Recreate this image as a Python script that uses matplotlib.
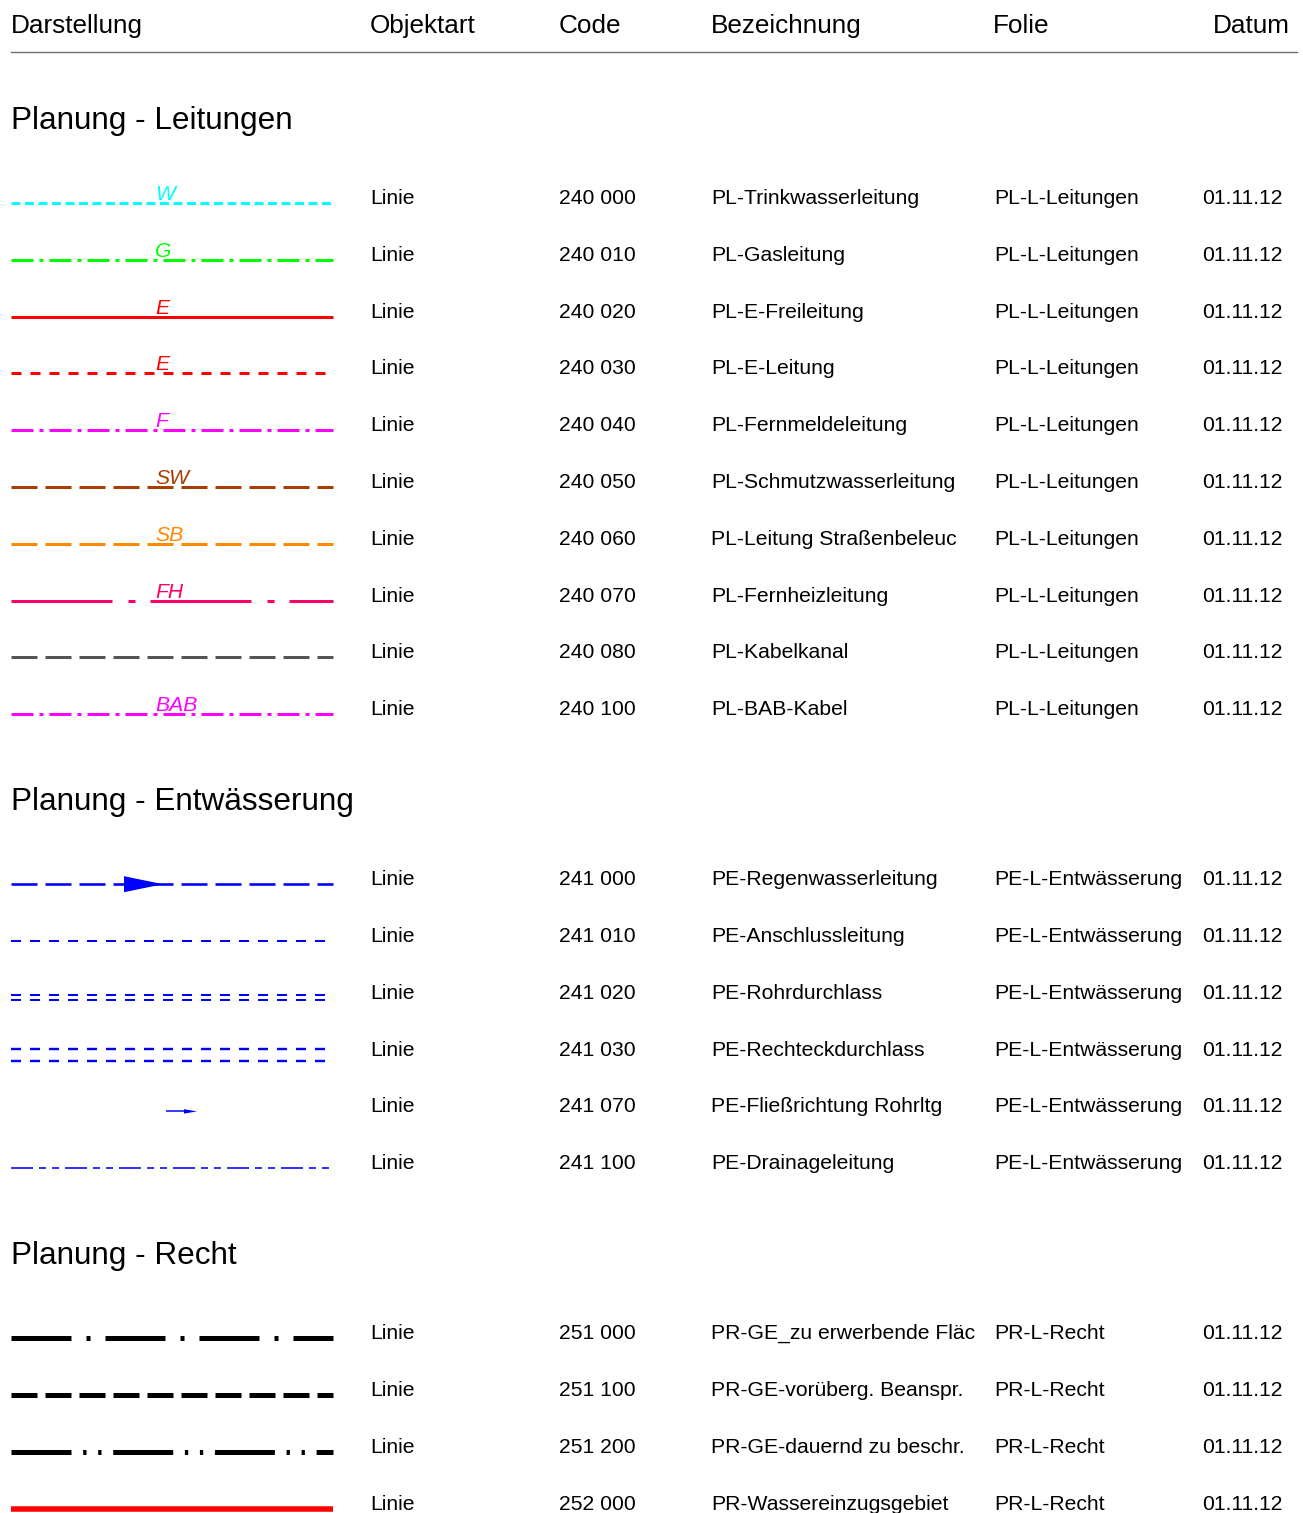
import matplotlib
matplotlib.use("Agg")
import matplotlib.pyplot as plt
from matplotlib.patches import Polygon

plt.rcParams['font.family'] = ['Liberation Sans', 'DejaVu Sans']
plt.rcParams['lines.scale_dashes'] = False

# --- data ---
headers = ["Darstellung", "Objektart", "Code", "Bezeichnung", "Folie", "Datum"]
sections = ["Planung - Leitungen", "Planung - Entwässerung", "Planung - Recht"]

codes = [
    ["240 000", "240 010", "240 020", "240 030", "240 040",
     "240 050", "240 060", "240 070", "240 080", "240 100"],
    ["241 000", "241 010", "241 020", "241 030", "241 070", "241 100"],
    ["251 000", "251 100", "251 200", "252 000"],
]
names = [
    ["PL-Trinkwasserleitung", "PL-Gasleitung", "PL-E-Freileitung", "PL-E-Leitung",
     "PL-Fernmeldeleitung", "PL-Schmutzwasserleitung", "PL-Leitung Straßenbeleuc",
     "PL-Fernheizleitung", "PL-Kabelkanal", "PL-BAB-Kabel"],
    ["PE-Regenwasserleitung", "PE-Anschlussleitung", "PE-Rohrdurchlass",
     "PE-Rechteckdurchlass", "PE-Fließrichtung Rohrltg", "PE-Drainageleitung"],
    ["PR-GE_zu erwerbende Fläc", "PR-GE-vorüberg. Beanspr.",
     "PR-GE-dauernd zu beschr.", "PR-Wassereinzugsgebiet"],
]
folien = ["PL-L-Leitungen", "PE-L-Entwässerung", "PR-L-Recht"]
objektart = "Linie"
datum = "01.11.12"
symbol_labels = [
    ["W", "G", "E", "E", "F", "SW", "SB", "FH", "", "BAB"],
    ["", "", "", "", "", ""],
    ["", "", "", ""],
]

# --- line styles (dash patterns in px) ---
DASH_SHORT = (9, 4.5)
DASH_MED = (10, 9)
DASH_LONG = (26, 8)
DASHDOT = (22, 6, 4, 6)
FH = (101, 16, 7, 15)
DRAIN = (22, 6, 7, 6, 7, 6)
REC1 = (60, 15, 4, 15)
REC2 = (60, 11.7, 3.3, 11.7, 3.3, 11.7)

styles = [
    [dict(c='#00FFFF', lw=3, d=DASH_SHORT),
     dict(c='#00FF00', lw=3, d=DASHDOT),
     dict(c='#FF0000', lw=3, d=None),
     dict(c='#FF0000', lw=3, d=DASH_MED, x1=325),
     dict(c='#FF00FF', lw=3, d=DASHDOT),
     dict(c='#AA3C00', lw=3, d=DASH_LONG),
     dict(c='#FF8800', lw=3, d=DASH_LONG),
     dict(c='#FF0066', lw=3, d=FH),
     dict(c='#555555', lw=3, d=DASH_LONG),
     dict(c='#FF00FF', lw=3, d=DASHDOT)],
    [dict(c='#0000FF', lw=2.6, d=DASH_LONG, kind='arrow'),
     dict(c='#0000FF', lw=2, d=DASH_MED, x1=325),
     dict(c='#0000FF', lw=2, d=DASH_MED, x1=325, kind='double', gap=2.5, dy=-0.5),
     dict(c='#0000FF', lw=2.4, d=DASH_MED, x1=325, kind='double', gap=6),
     dict(c='#0000FF', lw=1.5, d=None, kind='small_arrow'),
     dict(c='#0000FF', lw=1.6, d=DRAIN)],
    [dict(c='#000000', lw=5, d=REC1),
     dict(c='#000000', lw=5, d=DASH_LONG),
     dict(c='#000000', lw=5, d=REC2),
     dict(c='#FF0000', lw=5.5, d=None)],
]

W, H = 1303, 1513
fig = plt.figure(figsize=(W / 100, H / 100), dpi=100)
ax = fig.add_axes([0, 0, 1, 1])
ax.set_xlim(0, W)
ax.set_ylim(H, 0)
ax.axis('off')

PX = 0.72  # px -> pt at 100 dpi
X0, X1 = 11, 333
col_x = [370, 559, 711, 994, 1202]
head_x = [11, 370, 559, 711, 993, 1213]


def hline(y, x0, x1, st):
    ls = '-' if st['d'] is None else (0, tuple(v * PX for v in st['d']))
    ax.plot([x0, x1], [y, y], color=st['c'], lw=st['lw'] * PX, linestyle=ls,
            solid_capstyle='butt', dash_capstyle='butt')


def draw_symbol(st, y, label):
    kind = st.get('kind', 'line')
    x1 = st.get('x1', X1)
    if kind == 'line':
        hline(y, X0, x1, st)
    elif kind == 'arrow':
        hline(y, X0, x1, st)
        ax.add_patch(Polygon([[124, y - 8], [163, y], [124, y + 8]],
                             closed=True, color=st['c'], lw=0))
    elif kind == 'double':
        yc = y + st.get('dy', 0)
        hline(yc - st['gap'], X0, x1, st)
        hline(yc + st['gap'], X0, x1, st)
    elif kind == 'small_arrow':
        ax.plot([166, 186], [y, y], color=st['c'], lw=st['lw'] * PX,
                solid_capstyle='butt')
        ax.add_patch(Polygon([[184, y - 2.2], [197, y], [184, y + 2.2]],
                             closed=True, color=st['c'], lw=0))
    if label:
        ax.text(155, y - 3, label, color=st['c'], fontsize=15.2, style='italic',
                va='baseline', ha='left')


# header
for hx, h in zip(head_x, headers):
    ax.text(hx, 33, h, fontsize=18.8, va='baseline', ha='left')
ax.plot([11, 1297], [52, 52], color='#707070', lw=1.4 * PX)

tb = 129
for s, title in enumerate(sections):
    ax.text(11, tb, title, fontsize=22.7, va='baseline', ha='left')
    y0 = tb + 74
    for i, code in enumerate(codes[s]):
        y = y0 + i * 56.8
        draw_symbol(styles[s][i], y, symbol_labels[s][i])
        vals = [objektart, code, names[s][i], folien[s], datum]
        for cx, v in zip(col_x, vals):
            ax.text(cx, y + 1, v, fontsize=15.2, va='baseline', ha='left')
    tb = y + 96

fig.savefig('out.png', dpi=100, facecolor='white')
